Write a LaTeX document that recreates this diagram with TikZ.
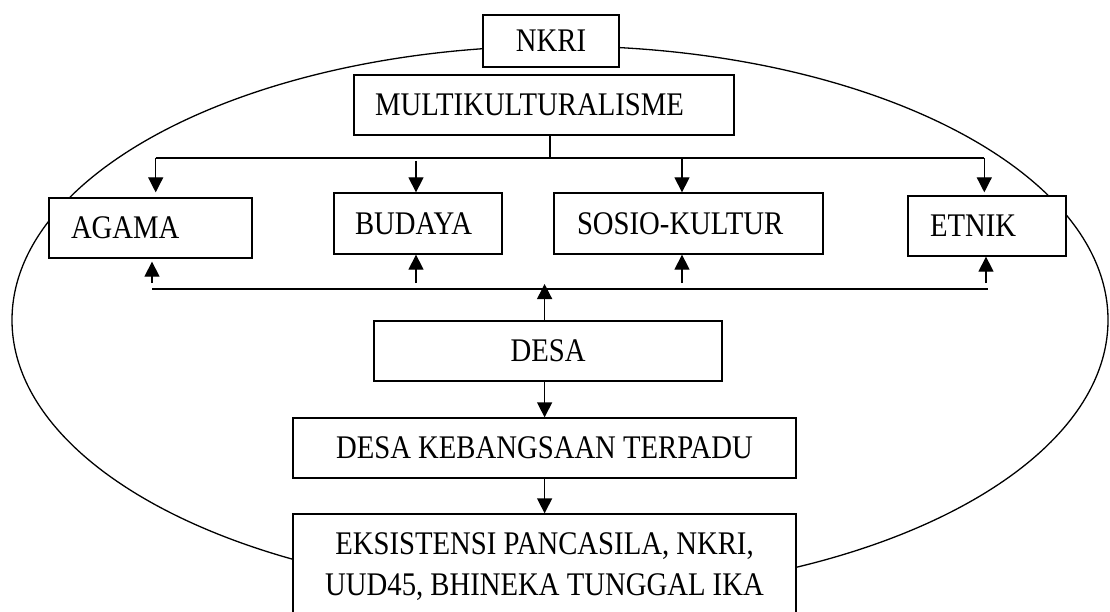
\documentclass[tikz,border=0pt]{standalone}
\usepackage{fontspec}
\setmainfont{Liberation Serif}[FakeStretch=0.87]
\usetikzlibrary{arrows.meta}
\begin{document}
\begin{tikzpicture}[x=1pt,y=-1pt,
  base/.style={draw, line width=1.3pt, fill=white, inner ysep=0pt, font=\fontsize{33}{41}\selectfont},
  cbox/.style={base, inner xsep=0pt, text height=21.8pt, text depth=0pt, align=center},
  lbox/.style={base, text height=21.8pt, text depth=0pt, align=left},
  ln/.style={line width=1.3pt},
  arr/.style={line width=1.3pt, -{Triangle[length=15pt,width=15pt]}}]
\useasboundingbox (0,0) rectangle (1110,612);
\clip (0,0) rectangle (1110,612);
% outer ellipse
\draw[ln] (560,320) ellipse [x radius=548pt, y radius=274pt];
% boxes
\node[cbox, minimum width=136pt, minimum height=52pt] (nkri) at (551,41) {NKRI};
\node[lbox, inner xsep=21pt, text width=338pt, minimum height=60pt] (multi) at (544,105) {MULTIKULTURALISME};
\node[lbox, inner xsep=22pt, text width=159pt, minimum height=60pt] (agama) at (150.5,228) {AGAMA};
\node[lbox, inner xsep=21pt, text width=126pt, minimum height=61pt] (budaya) at (418,223.5) {BUDAYA};
\node[lbox, inner xsep=23pt, text width=223pt, minimum height=61pt] (sosio) at (688.5,223.5) {SOSIO-KULTUR};
\node[lbox, inner xsep=22pt, text width=114pt, minimum height=60pt] (etnik) at (987,226) {ETNIK};
\node[cbox, minimum width=348pt, minimum height=60pt] (desa) at (548,351) {DESA};
\node[cbox, minimum width=503pt, minimum height=60pt] (dkt) at (544.5,448) {DESA KEBANGSAAN TERPADU};
\node[base, inner xsep=0pt, align=center, minimum width=503pt, minimum height=106pt] (eks) at (544.5,567)
  {EKSISTENSI PANCASILA, NKRI,\\UUD45, BHINEKA TUNGGAL IKA};
% top bus
\coordinate (stemB) at (550,158);
\coordinate (busL) at (155.7,158);
\coordinate (busR) at (984.3,158);
\coordinate (bT) at (416,161);
\coordinate (sT) at (682,158);
\draw[ln] (multi.south -| stemB) -- (stemB);
\draw[ln] (busL) -- (busR);
\draw[arr, shorten >=5pt] (busL) -- (busL |- agama.north);
\draw[arr] (bT) -- (bT |- budaya.north);
\draw[arr] (sT) -- (sT |- sosio.north);
\draw[arr, shorten >=3pt] (busR) -- (busR |- etnik.north);
% bottom bus
\coordinate (lbL) at (152,289);
\coordinate (lbR) at (988,289);
\draw[ln] (lbL) -- (lbR);
\coordinate (ua) at (152,283);
\coordinate (ub) at (416,283);
\coordinate (uc) at (682,283);
\coordinate (ud) at (986,283);
\draw[arr, shorten >=3pt] (ua) -- (ua |- agama.south);
\draw[arr] (ub) -- (ub |- budaya.south);
\draw[arr] (uc) -- (uc |- sosio.south);
\draw[arr] (ud) -- (ud |- etnik.south);
% vertical chain
\coordinate (dU) at (544.6,284);
\draw[arr] (dU |- desa.north) -- (dU);
\draw[arr] (desa.south -| dU) -- (dU |- dkt.north);
\draw[arr] (dkt.south -| dU) -- (dU |- eks.north);
\end{tikzpicture}
\end{document}
